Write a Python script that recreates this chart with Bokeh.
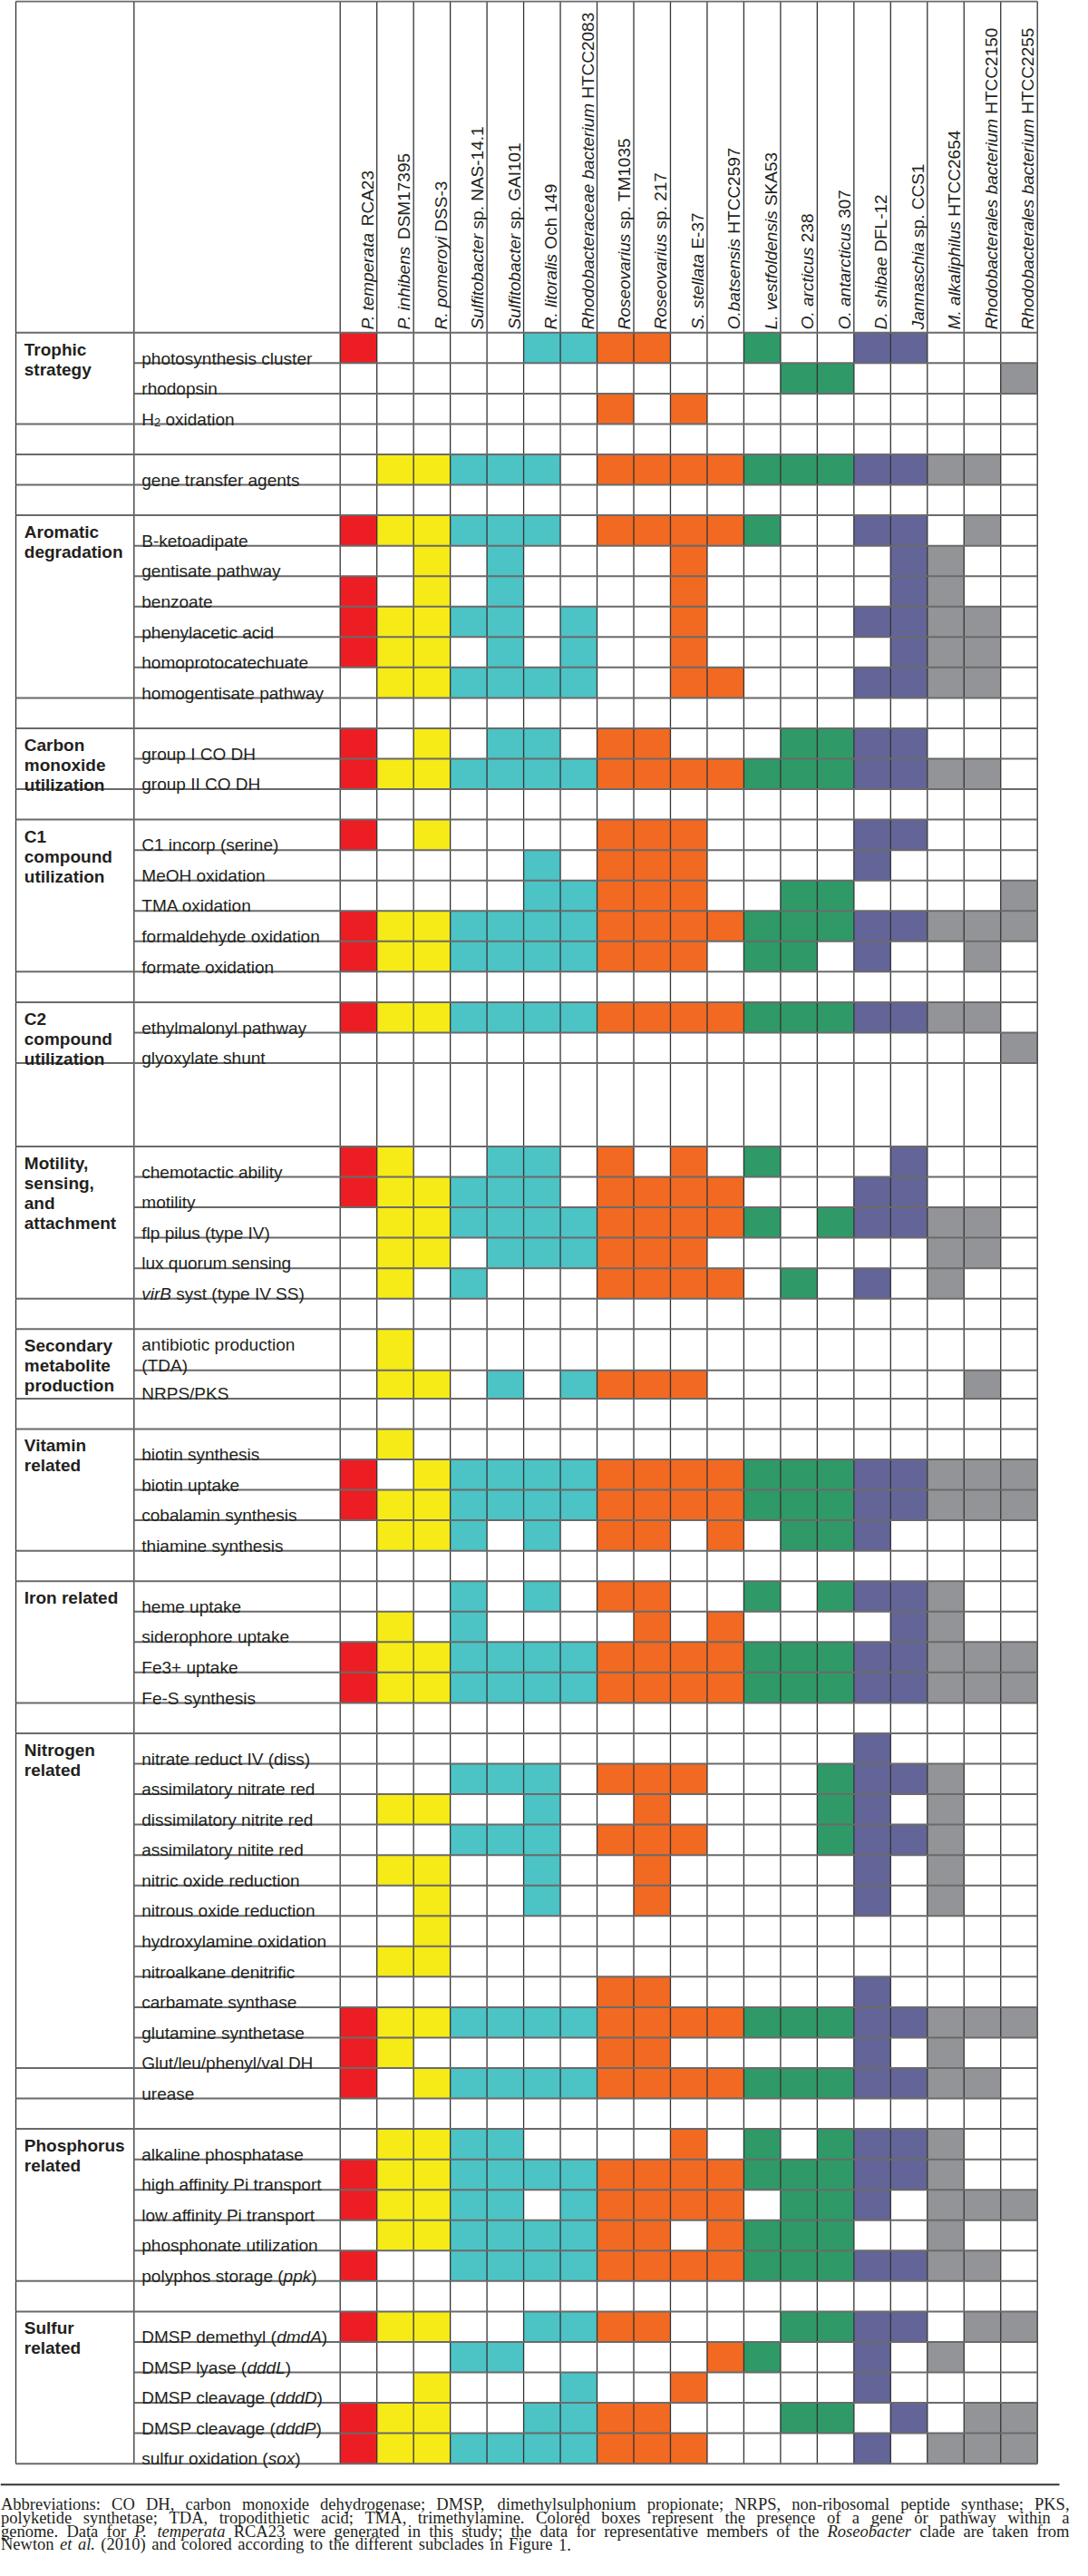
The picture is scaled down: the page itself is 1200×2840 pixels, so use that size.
from bokeh.plotting import figure
from bokeh.models import Range1d, ColumnDataSource
from bokeh.core.properties import value, field
from bokeh.embed import file_html
from bokeh.resources import INLINE

# ---------------------------------------------------------------- data
organism_taxon = ["P. temperata", "P. inhibens", "R. pomeroyi", "Sulfitobacter", "Sulfitobacter",
                  "R. litoralis", "Rhodobacteraceae bacterium", "Roseovarius", "Roseovarius",
                  "S. stellata", "O.batsensis", "L. vestfoldensis", "O. arcticus", "O. antarcticus",
                  "D. shibae", "Jannaschia", "M. alkaliphilus", "Rhodobacterales bacterium",
                  "Rhodobacterales bacterium"]
organism_strain = ["RCA23", "DSM17395", "DSS-3", "sp. NAS-14.1", "sp. GAI101", "Och 149", "HTCC2083",
                   "sp. TM1035", "sp. 217", "E-37", "HTCC2597", "SKA53", "238", "307", "DFL-12",
                   "sp. CCS1", "HTCC2654", "HTCC2150", "HTCC2255"]
organism_clade = [0, 1, 1, 2, 2, 2, 2, 3, 3, 3, 3, 4, 4, 4, 5, 5, 6, 6, 6]
clade_colors = ["#EC1E24", "#F6EB16", "#4CC3C5", "#F26922", "#2F9967", "#636598", "#939497"]

trophic_title = ["Trophic", "strategy"]
trophic_rows = ["photosynthesis cluster", "rhodopsin", "H\u2082 oxidation"]
trophic_presence = ["1000011110010011000", "0000000000001100001", "0000000101000000000"]

gta_rows = ["gene transfer agents"]
gta_presence = ["0111110111111111110"]

aromatic_title = ["Aromatic", "degradation"]
aromatic_rows = ["B-ketoadipate", "gentisate pathway", "benzoate", "phenylacetic acid",
                 "homoprotocatechuate", "homogentisate pathway"]
aromatic_presence = ["1111110111110011010", "0010100001000001100", "1010100001000001100",
                     "1111101001000011110", "1110101001000001110", "0111111001100011110"]

co_title = ["Carbon", "monoxide", "utilization"]
co_rows = ["group I CO DH", "group II CO DH"]
co_presence = ["1010110110001111000", "1111111111111111110"]

c1_title = ["C1", "compound", "utilization"]
c1_rows = ["C1 incorp (serine)", "MeOH oxidation", "TMA oxidation", "formaldehyde oxidation",
           "formate oxidation"]
c1_presence = ["1010000111000011000", "0000010111000010000", "0000011111001100001",
               "1111111111111111111", "1111111111011010010"]

c2_title = ["C2", "compound", "utilization"]
c2_rows = ["ethylmalonyl pathway", "glyoxylate shunt"]
c2_presence = ["1111111111111111110", "0000000000000000001"]

motility_title = ["Motility,", "sensing,", "and", "attachment"]
motility_rows = ["chemotactic ability", "motility", "flp pilus (type IV)", "lux quorum sensing",
                 "virB syst (type IV SS)"]
motility_presence = ["1100110101010001000", "1111110111100011000", "0111111111110111110",
                     "0110111111000000110", "0101000111101010100"]

secondary_title = ["Secondary", "metabolite", "production"]
secondary_rows = ["antibiotic production (TDA)", "NRPS/PKS"]
secondary_presence = ["0100000000000000000", "0110101111000000010"]

vitamin_title = ["Vitamin", "related"]
vitamin_rows = ["biotin synthesis", "biotin uptake", "cobalamin synthesis", "thiamine synthesis"]
vitamin_presence = ["0100000000000000000", "1011111111111111111", "1111111111111111111",
                    "0111010110101110000"]

iron_title = ["Iron related"]
iron_rows = ["heme uptake", "siderophore uptake", "Fe3+ uptake", "Fe-S synthesis"]
iron_presence = ["0001010110010111100", "0101000010100001100", "1111111111111111111",
                 "1111111111111111111"]

nitrogen_title = ["Nitrogen", "related"]
nitrogen_rows = ["nitrate reduct IV (diss)", "assimilatory nitrate red", "dissimilatory nitrite red",
                 "assimilatory nitite red", "nitric oxide reduction", "nitrous oxide reduction",
                 "hydroxylamine oxidation", "nitroalkane denitrific", "carbamate synthase",
                 "glutamine synthetase", "Glut/leu/phenyl/val DH"]
nitrogen_presence = ["0000000000000010000", "0001110111000111100", "0110010010000110100",
                     "0001110111000111100", "0110010010000010100", "0010010010000010100",
                     "0010000000000000000", "0110000000000000000", "0000000110000010000",
                     "1111111111111111111", "1100000110000010100"]

urease_rows = ["urease"]
urease_presence = ["1011111111111111110"]

phosphorus_title = ["Phosphorus", "related"]
phosphorus_rows = ["alkaline phosphatase", "high affinity Pi transport", "low affinity Pi transport",
                   "phosphonate utilization", "polyphos storage (ppk)"]
phosphorus_presence = ["0111100001010111100", "1111111111111111100", "1111101111101110111",
                       "0111111110111100100", "1001111111111111110"]

sulfur_title = ["Sulfur", "related"]
sulfur_rows = ["DMSP demethyl (dmdA)", "DMSP lyase (dddL)", "DMSP cleavage (dddD)",
               "DMSP cleavage (dddP)", "sulfur oxidation (sox)"]
sulfur_presence = ["1110011110001111011", "0001100000110010100", "0010001001000010000",
                   "1110011110001101011", "1111111111000010111"]

blank_rows = [""]
blank_presence = ["0000000000000000000"]

sections = [
    (trophic_title, trophic_rows, trophic_presence),
    ([], blank_rows, blank_presence),
    ([], gta_rows, gta_presence),
    ([], blank_rows, blank_presence),
    (aromatic_title, aromatic_rows, aromatic_presence),
    ([], blank_rows, blank_presence),
    (co_title, co_rows, co_presence),
    ([], blank_rows, blank_presence),
    (c1_title, c1_rows, c1_presence),
    ([], blank_rows, blank_presence),
    (c2_title, c2_rows, c2_presence),
    ([], blank_rows, blank_presence),
    (motility_title, motility_rows, motility_presence),
    ([], blank_rows, blank_presence),
    (secondary_title, secondary_rows, secondary_presence),
    ([], blank_rows, blank_presence),
    (vitamin_title, vitamin_rows, vitamin_presence),
    ([], blank_rows, blank_presence),
    (iron_title, iron_rows, iron_presence),
    ([], blank_rows, blank_presence),
    (nitrogen_title, nitrogen_rows, nitrogen_presence),
    ([], urease_rows, urease_presence),
    ([], blank_rows, blank_presence),
    (phosphorus_title, phosphorus_rows, phosphorus_presence),
    ([], blank_rows, blank_presence),
    (sulfur_title, sulfur_rows, sulfur_presence),
]

caption_lines = [
    [("Abbreviations: CO DH, carbon monoxide dehydrogenase; DMSP, dimethylsulphonium propionate; "
      "NRPS, non-ribosomal peptide synthase; PKS,", "normal")],
    [("polyketide synthetase; TDA, tropodithietic acid; TMA, trimethylamine. Colored boxes represent "
      "the presence of a gene or pathway within a", "normal")],
    [("genome. Data for", "normal"), ("P. temperata", "italic"),
     ("RCA23 were generated in this study; the data for representative members of the", "normal"),
     ("Roseobacter", "italic"), ("clade are taken from", "normal")],
    [("Newton", "normal"), ("et al.", "italic"),
     ("(2010) and colored according to the different subclades in Figure 1.", "normal")],
]

# ---------------------------------------------------------------- styling / layout
SANS = "Liberation Sans"
SERIF = "Liberation Serif"
TEXT_COLOR = "#231f20"
FS = 19.0

X_CAT, X_LAB, X_COL0, X_END = 25.0, 155.3, 382.7, 1151.7
N_COL = len(organism_taxon)
COL_W = (X_END - X_COL0) / N_COL
Y_TOP, Y_HEAD = 9.0, 374.3
ROW_H = 33.55
special_heights = {11: [2.74], 14: [1.36, 0.925]}
label_italic = {"virB syst (type IV SS)": "virB", "polyphos storage (ppk)": "ppk",
                "DMSP demethyl (dmdA)": "dmdA", "DMSP lyase (dddL)": "dddL",
                "DMSP cleavage (dddD)": "dddD", "DMSP cleavage (dddP)": "dddP",
                "sulfur oxidation (sox)": "sox"}
label_two_lines = {"antibiotic production (TDA)": ["antibiotic production", "(TDA)"]}

FIG_W, FIG_H = 1182, 2822

# font metrics (per 1000 em)
UP = "ABCDEFGHIJKLMNOPQRSTUVWXYZ"
LO = "abcdefghijklmnopqrstuvwxyz"
HELV = dict(zip(" !\"#$%&'()*+,-./:;", [278, 278, 355, 556, 556, 889, 667, 191, 333, 333, 389, 584,
                                         278, 333, 278, 278, 278, 278]))
HELV.update({d: 556 for d in "0123456789"})
HELV.update(zip(UP, [667, 667, 722, 722, 667, 611, 778, 722, 278, 500, 667, 556, 833, 722, 778, 667,
                     778, 722, 667, 611, 722, 667, 944, 667, 667, 611]))
HELV.update(zip(LO, [556, 556, 500, 556, 556, 278, 556, 556, 222, 222, 500, 222, 833, 556, 556, 556,
                     556, 333, 500, 278, 556, 500, 722, 500, 500, 500]))
TIMES = {' ': 250, '(': 333, ')': 333, ',': 250, '-': 333, '.': 250, ':': 278, ';': 278, '/': 278}
TIMES.update({d: 500 for d in "0123456789"})
TIMES.update(zip(UP, [722, 667, 667, 722, 611, 556, 722, 722, 333, 389, 722, 611, 889, 722, 722, 556,
                      722, 667, 556, 611, 722, 722, 944, 722, 722, 611]))
TIMES.update(zip(LO, [444, 500, 444, 500, 444, 333, 500, 500, 278, 278, 500, 278, 778, 500, 500, 500,
                      500, 333, 389, 278, 500, 500, 722, 500, 500, 444]))
TIMES_I = dict(TIMES)
TIMES_I.update(zip(UP, [611, 611, 667, 722, 611, 611, 722, 722, 333, 444, 667, 556, 833, 667, 722, 611,
                        722, 611, 500, 556, 722, 611, 833, 611, 556, 556]))
TIMES_I.update(zip(LO, [500, 500, 444, 500, 444, 278, 500, 500, 278, 278, 444, 278, 722, 500, 500, 500,
                        500, 389, 389, 278, 500, 444, 667, 444, 444, 389]))


def width(s, table, size):
    return sum(table.get(c, 556) for c in s) * size / 1000.0


texts = {}


def add_text(x, y, s, font, style, size, angle=0.0):
    d = texts.setdefault((font, style), dict(x=[], y=[], text=[], size=[], angle=[]))
    d["x"].append(x)
    d["y"].append(y)
    d["text"].append(s)
    d["size"].append("%.2fpx" % size)
    d["angle"].append(angle)


def draw_runs(x, y, runs, size, vertical=False):
    """runs: (text, style, scale, dy); sans-serif, Helvetica metrics."""
    pos = 0.0
    for txt, style, sc, dy in runs:
        s = size * sc
        lead = len(txt) - len(txt.lstrip(" "))
        pos += lead * HELV[" "] * s / 1000.0
        core = txt.strip(" ")
        if core:
            if vertical:
                add_text(x + dy, y - pos, core, SANS, style, s, 1.5707963)
            else:
                add_text(x + pos, y + dy, core, SANS, style, s)
        pos += width(core, HELV, s)
        if core:
            pos += (len(txt) - len(txt.rstrip(" "))) * HELV[" "] * s / 1000.0
    return pos


p = figure(width=FIG_W, height=FIG_H, x_range=Range1d(8, 8 + FIG_W), y_range=Range1d(8 + FIG_H, 8),
           output_backend="svg", toolbar_location=None, min_border=0,
           x_axis_type=None, y_axis_type=None)
p.title.visible = False
p.xgrid.visible = False
p.ygrid.visible = False
p.outline_line_color = None
p.background_fill_color = "white"
p.border_fill_color = "white"

col_edges = [X_COL0 + i * COL_W for i in range(N_COL + 1)]

# ---- rows geometry, cells, labels
cells = dict(left=[], right=[], top=[], bottom=[], color=[])
hx0, hx1, hy = [], [], []
y = Y_HEAD
for si, (title, rows, presence) in enumerate(sections):
    sec_top = y
    heights = special_heights.get(si, [1.0] * len(rows))
    for ri, (name, pres) in enumerate(zip(rows, presence)):
        h = ROW_H * heights[ri]
        r_top, r_bot = y, y + h
        for ci, flag in enumerate(pres):
            if flag == "1":
                cells["left"].append(col_edges[ci])
                cells["right"].append(col_edges[ci + 1])
                cells["top"].append(r_top)
                cells["bottom"].append(r_bot)
                cells["color"].append(clade_colors[organism_clade[ci]])
        lx = X_LAB + 8.5
        if name in label_two_lines:
            l1, l2 = label_two_lines[name]
            draw_runs(lx, r_top + 17.3, [(l1, "normal", 1, 0)], FS)
            draw_runs(lx, r_bot - 5.3, [(l2, "normal", 1, 0)], FS)
        elif name.startswith("H\u2082"):
            draw_runs(lx, r_bot - 5.3, [("H", "normal", 1, 0), ("2", "normal", 0.68, 3.2),
                                        (name[2:], "normal", 1, 0)], FS)
        elif name in label_italic:
            it = label_italic[name]
            a, _, b = name.partition(it)
            draw_runs(lx, r_bot - 5.3, [(a, "normal", 1, 0), (it, "italic", 1, 0),
                                        (b, "normal", 1, 0)], FS)
        elif name:
            draw_runs(lx, r_bot - 5.3, [(name, "normal", 1, 0)], FS)
        if ri > 0:
            hx0.append(X_LAB); hx1.append(X_END); hy.append(r_top)
        y = r_bot
    hx0.append(X_CAT); hx1.append(X_END); hy.append(sec_top)
    for li, line in enumerate(title):
        add_text(X_CAT + 9.3, sec_top + 18.5 + 22 * li, line, SANS, "bold", FS)
Y_BOT = y
hx0.append(X_CAT); hx1.append(X_END); hy.append(Y_BOT)
hx0.append(X_CAT); hx1.append(X_END); hy.append(Y_TOP)

p.quad(left="left", right="right", top="top", bottom="bottom", fill_color="color",
       line_color=None, source=ColumnDataSource(cells))

# ---- grid lines
vx = [X_CAT, X_LAB] + col_edges
p.segment(x0=vx, y0=[Y_TOP] * len(vx), x1=vx, y1=[Y_BOT] * len(vx),
          line_color="#333333", line_width=1.3)
p.segment(x0=hx0, y0=hy, x1=hx1, y1=hy, line_color="#6a6a6a", line_width=2.0)

# ---- column headers (rotated)
for ci in range(N_COL):
    bx = col_edges[ci] + 30.0
    draw_runs(bx, Y_HEAD - 3.5, [(organism_taxon[ci], "italic", 1, 0),
                                 (" " + organism_strain[ci], "normal", 1, 0)], FS, vertical=True)

# ---- caption
p.segment(x0=[8], y0=[2746.7], x1=[1176], y1=[2746.7], line_color="#333333", line_width=2)


def tokens(line):
    out = []
    for txt, style in line:
        for w in txt.split(" "):
            if w:
                out.append((w, style))
    return out


cap_tokens = [tokens(l) for l in caption_lines]


def nat_width_em(toks):
    w = 0.0
    for i, (t, st) in enumerate(toks):
        w += width(t, TIMES_I if st == "italic" else TIMES, 1.0)
        if i:
            w += TIMES[" "] / 1000.0
    return w


CAP_X0, CAP_X1 = 8.5, 1187.0
cap_fs = min(18.5, min((CAP_X1 - CAP_X0 - 10) / nat_width_em(t) for t in cap_tokens[:3]))
cap_base = [2768.0, 2783.0, 2798.0, 2812.5]
for li, toks in enumerate(cap_tokens):
    words_w = [width(t, TIMES_I if st == "italic" else TIMES, cap_fs) for t, st in toks]
    gap = TIMES[" "] * cap_fs / 1000.0
    if li < 3:
        gap = (CAP_X1 - CAP_X0 - sum(words_w)) / (len(toks) - 1)
    else:
        gap = gap * 1.4
    x = CAP_X0
    for (t, st), w in zip(toks, words_w):
        add_text(x, cap_base[li], t, SERIF, st, cap_fs)
        x += w + gap

# ---- render texts
for (font, style), d in texts.items():
    p.text(x="x", y="y", text="text", angle="angle", source=ColumnDataSource(d),
           text_font=value(font), text_font_style=value(style), text_font_size=field("size"),
           text_color=TEXT_COLOR, text_baseline="alphabetic", text_align="left")

open("out.html", "w").write(file_html(p, INLINE))
